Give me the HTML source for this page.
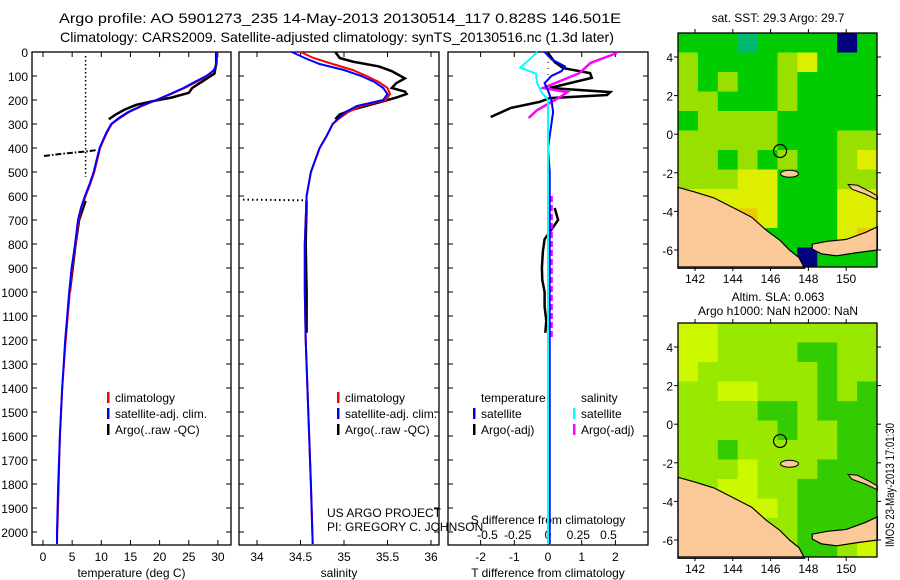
<!DOCTYPE html>
<html><head><meta charset="utf-8"><style>
html,body{margin:0;padding:0;background:#fff;}
svg{display:block;font-family:"Liberation Sans",sans-serif;}
</style></head><body>
<svg id="fig" width="900" height="580" viewBox="0 0 900 580">
<text x="340" y="23" font-size="14" text-anchor="middle" textLength="562" lengthAdjust="spacingAndGlyphs">Argo profile: AO 5901273_235 14-May-2013 20130514_117 0.828S 146.501E</text>
<text x="337" y="42" font-size="14" text-anchor="middle" textLength="554" lengthAdjust="spacingAndGlyphs">Climatology: CARS2009. Satellite-adjusted climatology: synTS_20130516.nc (1.3d later)</text>
<g id="g1"></g>
<g id="g2"></g>
<g id="g3"></g>
<g id="m1"></g>
<g id="m2"></g>
<text transform="translate(894,485) rotate(-90)" font-size="12" text-anchor="middle" textLength="124" lengthAdjust="spacingAndGlyphs">IMOS 23-May-2013 17:01:30</text>
</svg>
<script>
// ---- data ----
const climDepth = [0,50,75,100,125,150,175,200,225,250,275,300,330,350,400,450,500,550,600,650,700,800,900,1000,1200,1400,1600,1800,2000,2050];
const climTemp  = [29.9,29.8,29.3,28.2,26.3,24.3,22,19.5,17,14.8,13.2,11.8,11.1,10.7,9.8,9.3,8.8,8.1,7.3,6.6,6.1,5.6,5.0,4.6,3.9,3.3,2.9,2.7,2.45,2.4];
const satTemp   = [29.8,29.7,29.4,28.0,26.0,24.1,21.8,19.4,16.8,14.6,13.0,11.7,11.0,10.6,9.7,9.2,8.7,8.0,7.2,6.5,6.0,5.5,4.9,4.5,3.8,3.3,2.9,2.6,2.4,2.4];
const argoTDepth = [0,50,90,120,150,170,190,200,220,240,260,280];
const argoTemp   = [29.7,29.7,29.4,27.5,25.6,25,22,19.8,16,14,12.5,11.3];
const argoTDeepDepth = [620,700,800,900,1000];
const argoTDeep = [7.3,6.2,5.6,5.1,4.6];
const salDepth = [0,25,50,75,100,125,150,175,200,225,250,275,300,350,400,500,600,800,1000,1200,1500,1800,2050];
const climSal  = [34.5,34.65,34.87,35.1,35.26,35.4,35.5,35.53,35.48,35.2,35.05,34.95,34.87,34.8,34.72,34.62,34.57,34.55,34.55,34.56,34.59,34.62,34.64];
const satSal   = [34.4,34.55,34.72,35.0,35.2,35.35,35.45,35.5,35.45,35.15,35.02,34.94,34.87,34.8,34.72,34.62,34.57,34.55,34.55,34.56,34.59,34.62,34.64];
const argoSDepth = [0,25,40,60,80,110,130,150,165,175,190,200,220,240,260,280];
const argoSal    = [34.9,34.95,35.1,35.4,35.55,35.7,35.6,35.55,35.7,35.72,35.6,35.5,35.3,35.1,34.95,34.9];
const argoSDeepDepth = [620,800,1000,1170];
const argoSDeep = [34.57,34.56,34.57,34.57];
const dTDepth = [0,30,60,80,100,130,160,200,250,300,400,500,2050];
const dTsat   = [-0.1,0.1,0.5,0.4,0.1,-0.1,0,0.1,0.15,0.1,0,0.05,0.05];
const dSDepth = [0,30,65,90,130,170,200,2050];
const dSsat   = [-0.09,-0.15,-0.23,-0.1,-0.09,-0.05,0,0];
const dTargoDepth = [4,42,67,88,108,150,167,179,192,208,233,271];
const dTargo      = [0,0.2,0.45,1.25,1.3,0.05,1.85,1.75,0.05,-0.25,-1.1,-1.7];
const dTargoDeepDepth = [650,700,730,780,830,900,950,1000,1060,1120,1170];
const dTargoDeep      = [0.2,0.3,0.15,-0.1,-0.15,-0.18,-0.17,-0.1,-0.1,-0.05,-0.08];
const dSargoDepth = [4,46,88,150,167,188,242,275];
const dSargo      = [0.57,0.35,0.26,-0.04,0.16,0.1,-0.09,-0.16];
const dSargoDeepDepth = [600,800,1000,1200];
const dSargoDeep      = [0.03,0.03,0.03,0.03];
const depthTicks = [0,100,200,300,400,500,600,700,800,900,1000,1100,1200,1300,1400,1500,1600,1700,1800,1900,2000];
const tempTicks = [0,5,10,15,20,25,30];
const salTicks = [34,34.5,35,35.5,36];
const dTTicks = [-2,-1,0,1,2];
const dSTicks = [-0.5,-0.25,0,0.25,0.5];
const lonTicks = [142,144,146,148,150];
const latTicks = [4,2,0,-2,-4,-6];
const sstGrid = ["GGGTGGGGBG","LGGGGLYGGG","LGLGGLGGGG","LLGGGLGGGG","GLLLLGGGGG","LLLLLGGGLL","LLGLGLGGLY","LLLYYGGGLL","YYYYYGGGYY","YODOYGGGYY","YDYYGGGGYO","GGGGGGBGGG"];
const slaGrid = ["YYLLLLLLLL","YYLLLLGGLL","YLLLLLLGLL","LLYYLLLGLG","LLLLGGLGGG","LLLLLGLLGG","LLGLLLLLGG","LLLYLLLGGG","LLYYLLGGGG","LLYYYLGGGG","LLLLLLGGGG","LLLLLLGGLY"];
// ---- helpers ----
const NS="http://www.w3.org/2000/svg";
function mk(tag,attrs,parent){const e=document.createElementNS(NS,tag);for(const k in attrs)e.setAttribute(k,attrs[k]);parent.appendChild(e);return e;}
const Y0=52, YS=0.24, YB=545;
const dy = d => Y0 + d*YS;
function line(g,xs,ds,fx,color,w,name,dash){
  const p=xs.map((v,i)=>fx(v).toFixed(1)+","+dy(ds[i]).toFixed(1)).join(" ");
  const e=mk("polyline",{points:p,fill:"none",stroke:color,"stroke-width":w},g);
  if(dash)e.setAttribute("stroke-dasharray",dash);
  
  
}
function panel(g,x0,x1,ticks,fx,labels,xlabel,showDepth){
  const r=mk("rect",{x:x0,y:Y0,width:x1-x0,height:YB-Y0,fill:"none",stroke:"#000","stroke-width":1.3},g);
  
  
  depthTicks.forEach(d=>{
    mk("line",{x1:x0,x2:x0+5,y1:dy(d),y2:dy(d),stroke:"#000"},g);
    mk("line",{x1:x1,x2:x1-5,y1:dy(d),y2:dy(d),stroke:"#000"},g);
    if(showDepth){const t=mk("text",{x:28,y:dy(d)+5,"font-size":12,"text-anchor":"end"},g);t.textContent=d;
      
      }
  });
  ticks.forEach((v,i)=>{
    mk("line",{x1:fx(v),x2:fx(v),y1:Y0,y2:Y0+5,stroke:"#000"},g);
    mk("line",{x1:fx(v),x2:fx(v),y1:YB,y2:YB-5,stroke:"#000"},g);
    if(labels){const t=mk("text",{x:fx(v),y:561,"font-size":12,"text-anchor":"middle"},g);t.textContent=labels[i];
      
      }
  });
  const t=mk("text",{x:(x0+x1)/2,y:577,"font-size":12,"text-anchor":"middle"},g);t.textContent=xlabel;
  
  
}
function legend(g,x,y,color,text){
  const r=mk("rect",{x:x,y:y-10,width:2.5,height:11,fill:color},g);
  
  
  const t=mk("text",{x:x+8,y:y,"font-size":12},g);t.textContent=text;
  
  
}
function txt(g,x,y,s,name,anchor){const t=mk("text",{x:x,y:y,"font-size":12,"text-anchor":anchor||"start"},g);t.textContent=s;
  
  }
// ---- panel 1: temperature ----
const g1=document.getElementById("g1");
const fT=v=>43+v*5.83;
panel(g1,32,231,tempTicks,fT,tempTicks,"temperature (deg C)",true);
mk("line",{x1:fT(7.3),x2:fT(7.3),y1:56,y2:dy(520),stroke:"#000","stroke-width":1.5,"stroke-dasharray":"1.5,2.5"},g1);
mk("polyline",{points:"44,156 60,154 80,152 90,151 97,150",fill:"none",stroke:"#000","stroke-width":2,"stroke-dasharray":"6,2,1.5,2"},g1);
line(g1,argoTemp,argoTDepth,fT,"#000",2.5,"argo-temperature");
line(g1,argoTDeep,argoTDeepDepth,fT,"#000",2.5,"argo-temperature-deep");
line(g1,climTemp,climDepth,fT,"#f00",2,"climatology-temperature");
line(g1,satTemp,climDepth,fT,"#00f",2,"satellite-temperature");
legend(g1,107,402,"#f00","climatology");
legend(g1,107,418,"#00f","satellite-adj. clim.");
legend(g1,107,434,"#000","Argo(..raw -QC)");
// ---- panel 2: salinity ----
const g2=document.getElementById("g2");
const fS=v=>257+(v-34)*87;
panel(g2,239,439,salTicks,fS,salTicks,"salinity",false);
mk("line",{x1:243,x2:305,y1:dy(615),y2:dy(618),stroke:"#000","stroke-width":2,"stroke-dasharray":"1.5,3"},g2);
line(g2,argoSal,argoSDepth,fS,"#000",2.5,"argo-salinity");
line(g2,argoSDeep,argoSDeepDepth,fS,"#000",2.5,"argo-salinity-deep");
line(g2,climSal,salDepth,fS,"#f00",2,"climatology-salinity");
line(g2,satSal,salDepth,fS,"#00f",2,"satellite-salinity");
legend(g2,337,402,"#f00","climatology");
legend(g2,337,418,"#00f","satellite-adj. clim.");
legend(g2,337,434,"#000","Argo(..raw -QC)");
txt(g2,327,517,"US ARGO PROJECT","credit-line-1");
txt(g2,327,531,"PI: GREGORY C. JOHNSON","credit-line-2");
// ---- panel 3: differences ----
const g3=document.getElementById("g3");
const fdT=v=>548+v*33.7, fdS=v=>548+v*121;
panel(g3,448,648,dTTicks,fdT,dTTicks,"T difference from climatology",false);
dSTicks.forEach(v=>txt(g3,fdS(v),539,String(v),"s-tick-label","middle"));
txt(g3,548,524,"S difference from climatology","s-axis-title","middle");
mk("line",{x1:548,x2:548,y1:56,y2:YB,stroke:"#000","stroke-width":1,"stroke-dasharray":"1,5"},g3);
line(g3,dTargo,dTargoDepth,fdT,"#000",2.5,"argo-t-difference");
line(g3,dTargoDeep,dTargoDeepDepth,fdT,"#000",2.5,"argo-t-difference-deep");
line(g3,dSargo,dSargoDepth,fdS,"#f0f",2.5,"argo-s-difference");
line(g3,dSargoDeep,dSargoDeepDepth,fdS,"#f0f",2.5,"argo-s-difference-deep","6,3");
line(g3,dTsat,dTDepth,fdT,"#00f",2,"satellite-t-difference");
line(g3,dSsat,dSDepth,fdS,"#0ff",2,"satellite-s-difference");
txt(g3,481,402,"temperature","legend-temperature-header");
txt(g3,581,402,"salinity","legend-salinity-header");
legend(g3,473,418,"#00f","satellite");
legend(g3,473,434,"#000","Argo(-adj)");
legend(g3,573,418,"#0ff","satellite");
legend(g3,573,434,"#f0f","Argo(-adj)");
// ---- maps ----
const sstCol={G:"#00cc00",L:"#99e000",Y:"#ddee00",O:"#f0c800",D:"#e89a00",T:"#00b870",B:"#000080"};
const slaCol={Y:"#ccf800",L:"#99e800",G:"#33cc00"};
function map(gid,top,grid,cols,title1,title2){
  const g=document.getElementById(gid);
  const x0=678,x1=877,y0=top,y1=top+234;
  const fx=lon=>695+(lon-142)*18.9, fy=lat=>y0+24+(4-lat)*19.3;
  const cw=(x1-x0)/10, ch=(y1-y0)/12;
  grid.forEach((row,r)=>{[...row].forEach((c,k)=>{
    const e=mk("rect",{x:x0+k*cw,y:y0+r*ch,width:cw+0.5,height:ch+0.5,fill:cols[c]},g);
    
    
  });});
  const land="#fbc998";
  const pts=(a)=>a.map(p=>fx(p[0]).toFixed(1)+","+fy(p[1]).toFixed(1)).join(" ");
  const png=mk("polygon",{points:pts([[141.1,-2.75],[142,-3.0],[143,-3.3],[144,-3.8],[145,-4.3],[145.8,-5.0],[146.5,-5.5],[147,-6.0],[147.5,-6.4],[147.8,-6.95],[141.1,-6.95]]),fill:land,stroke:"#000","stroke-width":1.2},g);
  
  
  const nb=mk("polygon",{points:pts([[148.2,-5.7],[149,-5.55],[150,-5.45],[151,-5.1],[151.65,-4.8],[151.65,-6.0],[150.5,-6.15],[149.5,-6.3],[148.7,-6.2],[148.2,-5.95]]),fill:land,stroke:"#000","stroke-width":1.2},g);
  
  
  const mi=mk("ellipse",{cx:fx(147),cy:fy(-2.05),rx:9,ry:3.5,fill:land,stroke:"#000","stroke-width":1},g);
  
  
  const ni=mk("polygon",{points:pts([[150.1,-2.6],[150.6,-2.65],[151.3,-3.0],[151.65,-3.2],[151.65,-3.4],[151,-3.1],[150.3,-2.85]]),fill:land,stroke:"#000","stroke-width":1},g);
  
  
  const c=mk("circle",{cx:fx(146.5),cy:fy(-0.87),r:6.5,fill:"none",stroke:"#000","stroke-width":1.2},g);
  
  
  const fr=mk("rect",{x:x0,y:y0,width:x1-x0,height:y1-y0,fill:"none",stroke:"#000","stroke-width":1.3},g);
  
  
  lonTicks.forEach(l=>{mk("line",{x1:fx(l),x2:fx(l),y1:y0-4,y2:y0,stroke:"#000"},g);mk("line",{x1:fx(l),x2:fx(l),y1:y1,y2:y1+4,stroke:"#000"},g);
    txt(g,fx(l),y1+16,String(l),"lon-tick-label","middle");});
  latTicks.forEach(l=>{mk("line",{x1:x0-4,x2:x0,y1:fy(l),y2:fy(l),stroke:"#000"},g);mk("line",{x1:x1,x2:x1+4,y1:fy(l),y2:fy(l),stroke:"#000"},g);
    txt(g,673,fy(l)+5,String(l),"lat-tick-label","end");});
  if(title2){txt(g,778,top-22,title1,"map-title","middle");txt(g,778,top-8,title2,"map-subtitle","middle");}
  else txt(g,778,top-11,title1,"map-title","middle");
}
map("m1",33,sstGrid,sstCol,"sat. SST: 29.3 Argo: 29.7");
map("m2",323,slaGrid,slaCol,"Altim. SLA: 0.063","Argo h1000: NaN h2000: NaN");
</script>
</body></html>
